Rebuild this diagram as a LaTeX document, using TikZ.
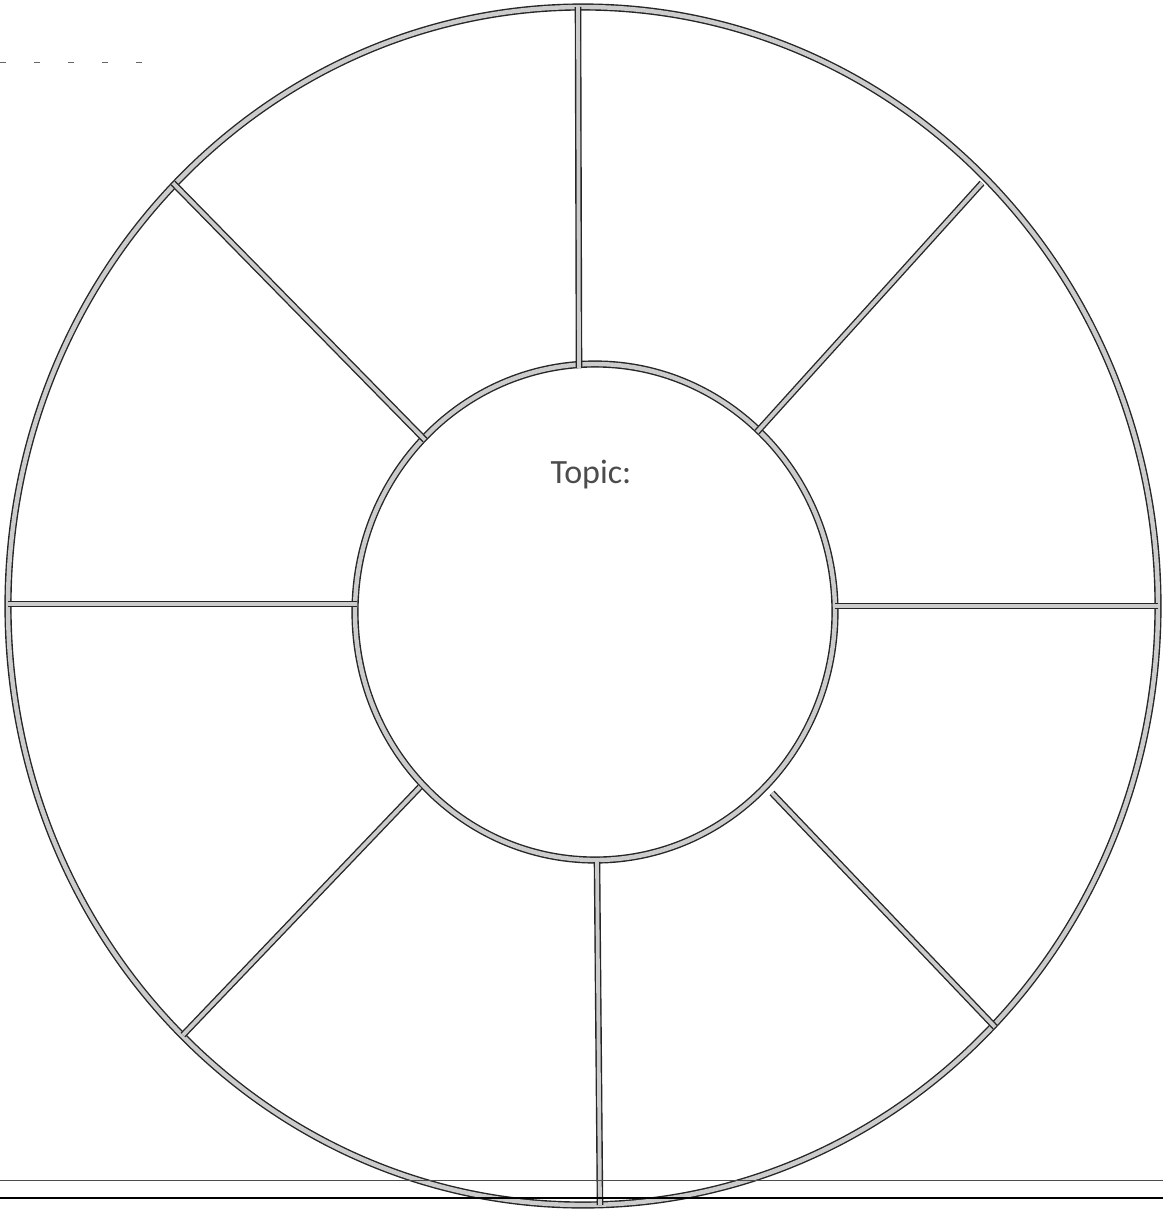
\documentclass[tikz,border=0pt]{standalone}
\usepackage{fontspec}
\setmainfont{Carlito}
\begin{document}
\begin{tikzpicture}[x=0.5pt,y=-0.5pt,
  ring/.style={draw=black!85,double=gray!40,double distance=2.2pt,line width=0.7pt},
  spoke/.style={draw=black!85,double=gray!40,double distance=1.9pt,line width=0.7pt},
  rule/.style={draw=black,line width=0.9pt}]
\useasboundingbox (0,0) rectangle (1163,1211);
% outer and inner rings
\draw[ring] (583,606) ellipse [x radius=575, y radius=599];
\draw[ring] (595,612) ellipse [x radius=240, y radius=248];
% spoke end points
\coordinate (o1) at (578,7);    \coordinate (i1) at (579,368);
\coordinate (o2) at (982,183);  \coordinate (i2) at (757,432);
\coordinate (o3) at (1158,606); \coordinate (i3) at (835,606);
\coordinate (o4) at (995,1027); \coordinate (i4) at (772,793);
\coordinate (o5) at (600,1205); \coordinate (i5) at (597,862);
\coordinate (o6) at (183,1035); \coordinate (i6) at (420,787);
\coordinate (o7) at (8,604);    \coordinate (i7) at (357,604);
\coordinate (o8) at (173,183);  \coordinate (i8) at (425,440);
\foreach \k in {1,...,8} \draw[spoke] (o\k) -- (i\k);
% title
\node[text=black!70,font=\fontsize{17}{20}\selectfont] (topic) at (591,475) {Topic:};
% page rules
\coordinate (r1a) at (0,1180); \coordinate (r1b) at (1163,1180);
\coordinate (r2a) at (0,1198); \coordinate (r2b) at (1163,1198);
\draw[draw=black!70,line width=0.5pt] (r1a) -- (r1b);
\draw[rule] (r2a) -- (r2b);
\coordinate (d1) at (0,62); \coordinate (d2) at (148,62);
\draw[draw=black!60,line width=0.5pt,dash pattern=on 3pt off 14pt] (d1) -- (d2);
\end{tikzpicture}
\end{document}
